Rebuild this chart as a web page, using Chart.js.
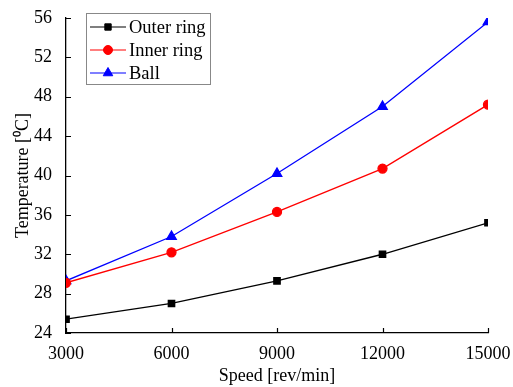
<!DOCTYPE html>
<html>
<head>
<meta charset="utf-8">
<script src="https://cdn.jsdelivr.net/npm/chart.js@4/dist/chart.umd.min.js"></script>
<style>
  html, body { margin: 0; padding: 0; background: #fff; }
  #wrap { width: 513px; height: 387px; }
</style>
</head>
<body>
<div id="wrap"><canvas id="myChart" width="513" height="387"></canvas></div>
<script>
// data
const speeds = [3000, 6000, 9000, 12000, 15000];
const outerRing = [25.4, 27.0, 29.3, 32.0, 35.2];
const innerRing = [29.1, 32.2, 36.3, 40.7, 47.2];
const ball = [29.3, 33.8, 40.2, 47.0, 55.6];
const seriesNames = ['Outer ring', 'Inner ring', 'Ball'];
const xTicks = [3000, 6000, 9000, 12000, 15000];
const yTicks = [24, 28, 32, 36, 40, 44, 48, 52, 56];

const FONT = '"Liberation Serif", "Times New Roman", serif';

function pts(vals) {
  return speeds.map((s, i) => ({ x: s, y: vals[i] }));
}

// ticks drawn on the inside of the axes
const innerTicks = {
  id: 'innerTicks',
  afterDraw(chart) {
    const c = chart.ctx, a = chart.chartArea;
    const xs = chart.scales.x, ys = chart.scales.y;
    c.save();
    c.strokeStyle = '#000';
    c.lineWidth = 1.2;
    c.beginPath();
    xTicks.forEach(v => {
      const px = Math.round(xs.getPixelForValue(v)) + 0.5;
      c.moveTo(px, a.bottom); c.lineTo(px, a.bottom - 5);
    });
    yTicks.forEach(v => {
      const py = Math.round(ys.getPixelForValue(v)) + 0.5;
      c.moveTo(a.left, py); c.lineTo(a.left + 5, py);
    });
    c.stroke();
    c.restore();
  }
};

// legend with line + marker, like the original
const boxLegend = {
  id: 'boxLegend',
  afterDraw(chart) {
    const c = chart.ctx;
    const x0 = 86, y0 = 13, w = 124, h = 71;
    c.save();
    c.fillStyle = '#fff';
    c.fillRect(x0, y0, w, h);
    c.strokeStyle = '#888';
    c.lineWidth = 1;
    c.strokeRect(x0 + 0.5, y0 + 0.5, w, h);
    c.font = '18.5px ' + FONT;
    c.textBaseline = 'middle';
    chart.data.datasets.forEach((ds, i) => {
      const cy = y0 + 14 + i * 23;
      c.strokeStyle = ds.borderColor;
      c.lineWidth = 1.2;
      c.beginPath();
      c.moveTo(x0 + 4, cy); c.lineTo(x0 + 40, cy);
      c.stroke();
      c.fillStyle = ds.backgroundColor;
      c.strokeStyle = ds.borderColor;
      c.lineWidth = 1;
      Chart.helpers.drawPoint(c, {
        pointStyle: ds.pointStyle, radius: ds.pointRadius, borderWidth: 1
      }, x0 + 22, cy);
      c.fillStyle = '#000';
      c.fillText(ds.label, x0 + 43, cy + 1);
    });
    c.restore();
  }
};

const ctx = document.getElementById('myChart').getContext('2d');
const myChart = new Chart(ctx, {
  type: 'line',
  data: {
    datasets: [{
      label: seriesNames[0],
      data: pts(outerRing),
      borderColor: '#000',
      backgroundColor: '#000',
      pointStyle: 'rect',
      pointRadius: 4.5,
      borderWidth: 1.3
    }, {
      label: seriesNames[1],
      data: pts(innerRing),
      borderColor: '#ff0000',
      backgroundColor: '#ff0000',
      pointStyle: 'circle',
      pointRadius: 4.5,
      borderWidth: 1.3
    }, {
      label: seriesNames[2],
      data: pts(ball),
      borderColor: '#0000ff',
      backgroundColor: '#0000ff',
      pointStyle: 'triangle',
      pointRadius: 5.5,
      borderWidth: 1.3
    }]
  },
  options: {
    responsive: false,
    animation: false,
    layout: { padding: { left: 0, right: 25, top: 18, bottom: 0 } },
    elements: { point: { borderWidth: 1 }, line: { tension: 0 } },
    plugins: {
      legend: { display: false },
      tooltip: { enabled: false }
    },
    scales: {
      x: {
        type: 'linear',
        min: 3000, max: 15000,
        afterBuildTicks: s => { s.ticks = xTicks.map(v => ({ value: v })); },
        afterFit: s => { s.height = 54; },
        grid: { display: false },
        border: { display: true, color: '#000', width: 1.3 },
        ticks: {
          color: '#000', padding: 2, maxRotation: 0,
          callback: v => String(v),
          font: { family: FONT, size: 18 }
        },
        title: {
          display: true, text: 'Speed [rev/min]', color: '#000',
          font: { family: FONT, size: 18 }, padding: { top: 0, bottom: 0 }
        }
      },
      y: {
        min: 24, max: 56,
        afterBuildTicks: s => { s.ticks = yTicks.map(v => ({ value: v })); },
        afterFit: s => { s.width = 66; },
        grid: { display: false },
        border: { display: true, color: '#000', width: 1.3 },
        ticks: {
          color: '#000', padding: 6,
          callback: v => String(v),
          font: { family: FONT, size: 18 }
        },
        title: {
          display: true, text: 'Temperature [\u2070C]', color: '#000',
          font: { family: FONT, size: 18 }, padding: { top: 12, bottom: 0 }
        }
      }
    }
  },
  plugins: [innerTicks, boxLegend]
});
</script>
</body>
</html>
